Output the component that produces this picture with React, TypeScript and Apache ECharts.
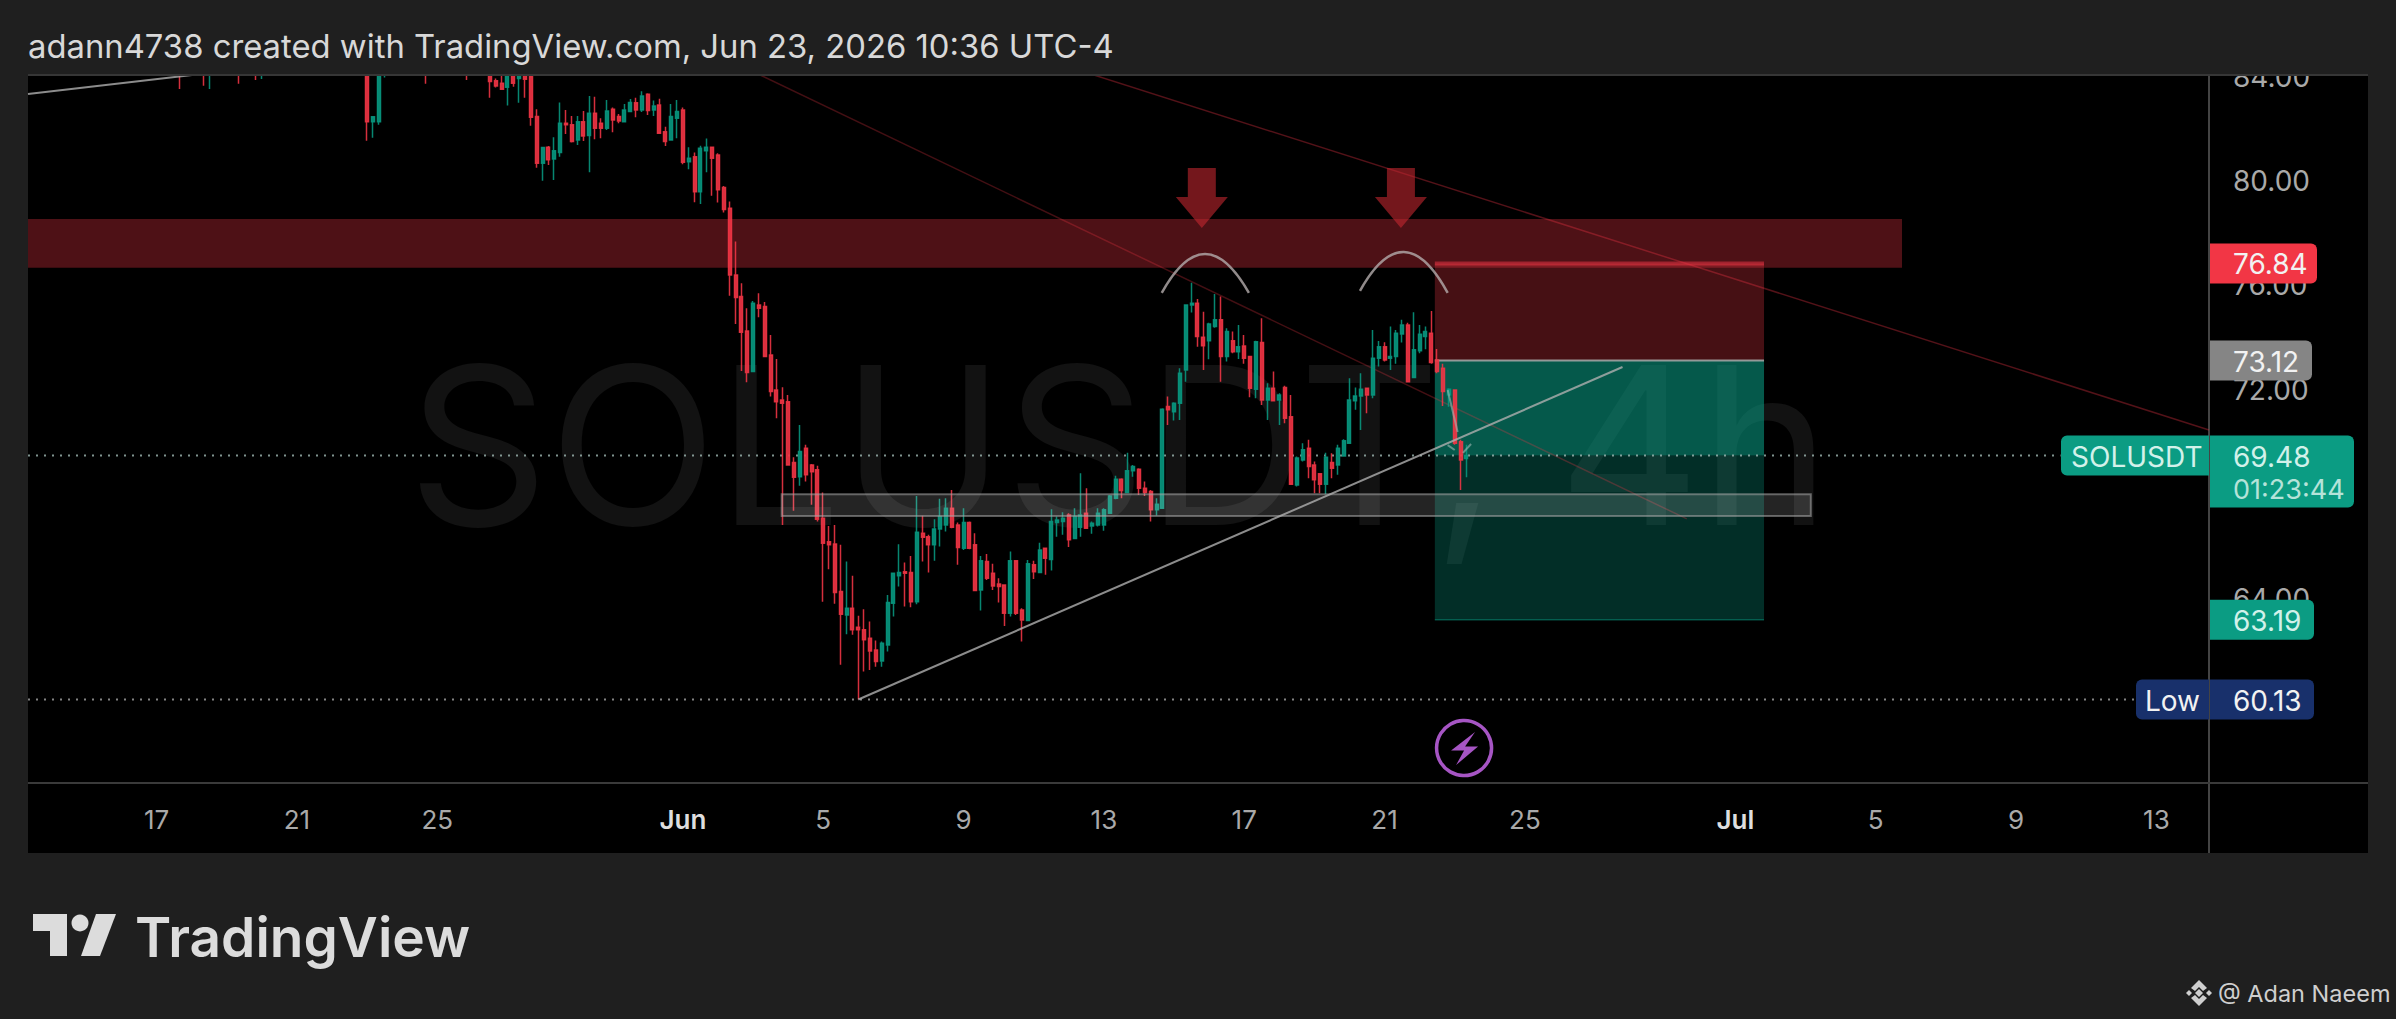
import React, { useEffect, useRef } from "react";
import * as echarts from "echarts";

const FONT = "Inter";
const BAR_SLOTS = 374;
const LAST_SLOT = BAR_SLOTS - 1;

// Slot 112 is Jun 1 00:00; one slot is four hours.
const categories = Array.from({ length: BAR_SLOTS }, (_, i) =>
  new Date(Date.UTC(2026, 5, 1) + (i - 112) * 4 * 3600 * 1000).toISOString().slice(0, 16)
);

const dateTicks: [number, string][] = [
  [22, "17"], [46, "21"], [70, "25"], [112, "Jun"], [136, "5"], [160, "9"], [184, "13"],
  [208, "17"], [232, "21"], [256, "25"], [292, "Jul"], [316, "5"], [340, "9"], [364, "13"],
];
const priceTicks = [60, 64, 68, 72, 76, 80, 84];

// [slot, open, high, low, close]: bars that only poke into the top of the pane
const earlyBars: number[][] = [
  [26, 85.2, 85.6, 83.52, 84.4], [30, 85, 85.4, 83.65, 84.2], [31, 84.3, 85.2, 83.52, 84.9],
  [36, 85, 85.3, 83.72, 84.3], [39, 85.1, 85.3, 83.87, 84.4], [40, 84.4, 85, 83.91, 84.8],
  [58, 85.4, 85.8, 81.54, 82.27], [59, 82.27, 82.49, 81.66, 82.46], [60, 82.27, 85.6, 82.15, 85.2],
  [61, 84.7, 85.7, 83.96, 85.3], [68, 85.1, 85.4, 83.72, 84.4], [75, 85, 85.2, 83.87, 84.3],
];

const FIRST_MAIN_SLOT = 79;
// [open, high, low, close] from slot 79 on
const mainBars: number[][] = [
  [84.2, 84.4, 83.19, 83.81], [83.84, 83.93, 83.58, 83.64], [83.74, 84.2, 83.49, 83.51], [83.59, 84.5, 82.89, 84.3],
  [84.3, 84.5, 83.61, 83.74], [83.93, 84.4, 83.0, 84.2], [84.3, 84.5, 83.19, 83.9], [84.0, 84.2, 82.12, 82.44],
  [82.47, 82.75, 80.51, 80.68], [80.68, 81.28, 80.01, 81.28], [81.29, 81.34, 80.61, 80.81], [80.84, 81.67, 80.04, 81.16],
  [81.09, 83.01, 80.93, 82.21], [82.21, 82.72, 81.8, 82.15], [82.15, 82.49, 81.47, 81.51], [81.57, 82.49, 81.38, 82.27],
  [82.27, 82.68, 81.53, 81.72], [81.74, 83.26, 80.33, 82.59], [82.59, 83.23, 81.6, 82.02], [82.21, 82.4, 81.64, 82.02],
  [82.02, 83.1, 81.95, 82.68], [82.75, 82.81, 81.87, 82.34], [82.47, 82.57, 82.21, 82.3], [82.27, 82.95, 82.25, 82.72],
  [82.66, 83.14, 82.63, 83.01], [83.0, 83.19, 82.44, 82.72], [82.72, 83.44, 82.64, 83.26], [83.32, 83.36, 82.53, 82.7],
  [82.72, 83.08, 82.49, 82.87], [82.91, 83.15, 81.8, 81.83], [81.89, 82.08, 81.34, 81.51], [81.57, 82.95, 81.55, 82.47],
  [82.4, 83.1, 81.64, 82.66], [82.72, 82.81, 80.64, 80.72], [80.74, 81.29, 80.45, 80.87], [80.93, 81.09, 79.18, 79.59],
  [79.59, 81.35, 79.12, 81.25], [81.16, 81.63, 80.33, 81.29], [81.29, 81.32, 79.43, 80.87], [80.99, 81.06, 79.17, 79.66],
  [79.75, 79.81, 78.79, 78.91], [78.95, 79.21, 75.6, 76.4], [76.4, 77.68, 74.52, 75.53], [75.57, 76.08, 72.72, 74.2],
  [74.25, 75.12, 72.29, 72.66], [72.7, 75.4, 72.67, 75.31], [75.25, 75.7, 74.78, 75.12], [75.19, 75.36, 73.25, 73.27],
  [73.33, 74.1, 71.74, 71.93], [71.99, 73.18, 70.91, 71.54], [71.61, 72.1, 66.82, 71.48], [71.54, 71.8, 69.09, 69.12],
  [69.21, 69.41, 67.36, 68.65], [68.67, 70.65, 68.32, 69.63], [69.76, 69.89, 68.48, 68.74], [69.12, 69.15, 67.59, 68.86],
  [68.93, 69.09, 66.95, 67.04], [67.08, 68.06, 63.88, 66.12], [66.18, 66.78, 65.12, 66.06], [66.09, 66.82, 63.8, 64.23],
  [64.27, 66.06, 61.46, 63.4], [63.37, 65.42, 62.63, 63.63], [63.63, 64.87, 62.61, 62.8], [62.9, 63.34, 60.13, 62.8],
  [62.8, 63.59, 61.2, 62.42], [62.48, 63.12, 61.26, 61.99], [62.03, 62.39, 61.39, 61.59], [61.61, 62.35, 61.39, 62.29],
  [62.22, 64.14, 61.97, 63.85], [63.82, 65.0, 63.31, 64.97], [64.87, 66.08, 64.46, 65.0], [65.03, 65.38, 63.69, 64.97],
  [65.0, 65.63, 63.67, 63.88], [63.88, 67.93, 63.78, 66.54], [66.5, 67.17, 65.42, 66.35], [66.37, 66.44, 65.0, 66.06],
  [66.06, 67.04, 65.45, 66.66], [66.66, 67.82, 65.99, 67.14], [66.82, 67.84, 66.57, 67.46], [67.46, 68.16, 66.69, 66.73],
  [66.82, 66.91, 65.29, 65.96], [65.93, 67.46, 65.86, 66.91], [66.91, 66.95, 65.89, 65.93], [66.06, 66.5, 64.29, 64.31],
  [64.33, 65.63, 63.54, 65.45], [65.42, 65.71, 64.71, 64.78], [64.97, 65.33, 64.33, 64.48], [64.56, 64.78, 63.85, 64.46],
  [64.52, 64.52, 62.95, 63.44], [63.44, 65.8, 63.31, 65.45], [65.45, 65.48, 63.37, 63.44], [63.56, 63.63, 62.35, 63.18],
  [63.16, 65.48, 63.14, 65.33], [65.29, 65.45, 64.75, 65.03], [65.0, 66.14, 64.98, 65.86], [65.93, 65.95, 64.91, 65.54],
  [65.5, 67.42, 65.07, 66.95], [66.91, 67.14, 66.37, 67.01], [66.95, 67.31, 66.44, 67.08], [67.2, 67.27, 65.97, 66.25],
  [66.3, 67.46, 66.27, 67.14], [66.73, 68.8, 66.37, 67.2], [67.27, 68.23, 66.66, 66.69], [66.78, 66.95, 66.48, 66.88],
  [66.82, 67.46, 66.76, 67.27], [66.82, 67.46, 66.6, 67.4], [67.27, 67.97, 67.24, 67.93], [67.84, 68.7, 67.8, 68.57],
  [68.57, 68.61, 67.84, 68.14], [68.06, 69.59, 68.03, 68.9], [68.9, 69.12, 68.67, 69.06], [68.95, 68.99, 67.97, 68.23],
  [68.23, 68.48, 67.93, 68.06], [68.1, 68.16, 66.95, 67.4], [67.4, 67.84, 67.18, 67.61], [67.46, 71.29, 67.43, 71.25],
  [71.36, 71.74, 70.65, 71.23], [71.16, 71.52, 70.82, 71.48], [71.48, 72.82, 70.84, 72.63], [72.76, 75.28, 72.31, 75.25],
  [75.25, 76.1, 74.96, 75.31], [75.31, 75.48, 73.65, 74.04], [74.01, 74.99, 72.76, 73.69], [73.88, 74.57, 73.17, 74.52],
  [74.42, 75.67, 74.38, 74.68], [74.68, 75.57, 72.31, 73.27], [73.27, 74.36, 73.08, 74.23], [73.88, 74.23, 73.4, 73.46],
  [73.46, 74.48, 73.18, 73.65], [73.68, 74.1, 73.0, 73.21], [73.27, 73.3, 71.71, 72.06], [72.02, 73.88, 71.67, 73.84],
  [73.81, 74.74, 71.42, 71.61], [71.61, 72.25, 70.84, 72.06], [72.06, 72.7, 71.55, 71.58], [71.61, 71.87, 70.65, 71.8],
  [72.09, 72.15, 70.72, 70.91], [70.97, 71.8, 68.35, 68.38], [68.35, 69.44, 68.29, 69.38], [69.31, 69.95, 69.25, 69.7],
  [69.76, 70.08, 68.61, 69.06], [69.12, 69.25, 68.03, 68.55], [68.78, 68.8, 68.03, 68.38], [68.38, 69.59, 68.0, 69.41],
  [69.21, 69.57, 68.61, 68.99], [69.12, 69.89, 68.74, 69.76], [69.46, 70.1, 69.44, 70.05], [69.95, 72.44, 69.92, 71.61],
  [71.58, 72.09, 71.23, 71.76], [71.76, 72.63, 70.46, 72.02], [72.06, 72.09, 71.1, 71.8], [71.8, 74.29, 71.67, 73.21],
  [73.21, 73.87, 72.89, 73.65], [73.65, 73.82, 73.08, 73.14], [73.21, 74.42, 72.76, 73.27], [73.27, 74.29, 73.0, 74.16],
  [74.14, 74.68, 73.81, 74.48], [74.48, 74.57, 72.29, 72.31], [72.47, 74.97, 72.44, 73.53], [73.49, 74.48, 73.4, 74.13],
  [74.04, 74.42, 73.55, 74.23], [74.16, 75.02, 73.0, 73.04], [73.14, 73.56, 72.63, 72.7], [72.82, 73.0, 71.38, 71.93],
  [71.8, 72.06, 71.35, 72.02], [71.99, 72.02, 69.89, 69.95], [70.01, 70.08, 68.16, 69.31], [69.37, 69.89, 68.65, 69.48],
];

// Drawings, in slot and price units
const supplyZone = [[0, 320.5, 78.54, 76.67]];
const stopBox = [[240.6, 296.9, 76.84, 73.12]];
const targetBoxUpper = [[240.6, 296.9, 73.12, 69.48]];
const targetBoxLower = [[240.6, 296.9, 69.48, 63.19]];
const demandBox = [[128.9, 304.9, 68.0, 67.16]];
const stopLine = [[240.6, 76.84], [296.9, 76.84]];
const entryLine = [[240.6, 73.12], [296.9, 73.12]];
const targetLine = [[240.6, 63.19], [296.9, 63.19]];
const risingTrend = [[142, 60.13], [272.7, 72.87]];
const olderTrend = [[0, 83.33], [40, 84.37]];
const fallingTrendNear = [[120, 84.62], [283.7, 67.05]];
const fallingTrendFar = [[175, 84.58], [373, 70.46]];
const lastPriceLine = [[0, 69.48], [347.6, 69.48]];
const lowPriceLine = [[0, 60.13], [360.5, 60.13]];
const pathShaft = [[242.8, 71.99], [244.5, 70.38]];
const pathHeadLeft = [[242.8, 69.88], [244, 69.69]];
const pathHeadRight = [[245.4, 69.58], [246.8, 69.92]];
// [start slot, start price, peak slot, peak price, end slot, end price]
const arcs = [
  [193.9, 75.71, 201.3, 77.2, 208.8, 75.71],
  [227.8, 75.79, 235.3, 77.28, 242.8, 75.71],
];
const arrowTips = [[200.75, 78.2], [234.8, 78.2]];
const eventMarker = [[245.6, 58.27]];

const priceTags = [76.84, 73.12, 69.48, 63.19, 60.13];
const tagTexts = ["76.84", "73.12", "69.48", "63.19", "60.13"];
const countdownText = "01:23:44";
const symbolText = "SOLUSDT";
const lowText = "Low";
const titleText = "adann4738 created with TradingView.com, Jun 23, 2026 10:36 UTC-4";
const watermarkText = "SOLUSDT, 4h";
const brandText = "TradingView";
const creditText = "@ Adan Naeem";

const GREEN = "#089981";
const RED = "#F23645";
const GRAY_LINE = "rgba(175,175,175,0.8)";

const tagFills = ["#F23645", "#858585", "#0b9c83", "#0b9c83", "#18306b"];
const tagWidths = [107, 102, 144, 104, 104];

function boxSeries(name: string, rows: number[][], style: any, z: number) {
  return {
    type: "custom", name, xAxisIndex: 1, yAxisIndex: 0, silent: true, z, clip: true,
    encode: { x: [0, 1], y: [2, 3] },
    data: rows,
    renderItem: (_: any, api: any) => {
      const a = api.coord([api.value(0), api.value(2)]);
      const b = api.coord([api.value(1), api.value(3)]);
      return { type: "rect", shape: { x: a[0], y: a[1], width: b[0] - a[0], height: b[1] - a[1] }, style };
    },
  };
}

function lineSeries(name: string, data: number[][], color: string, width: number, z: number, dash?: number[]) {
  return {
    type: "line", name, xAxisIndex: 1, yAxisIndex: 0, data, z, silent: true, showSymbol: false,
    symbol: "none", lineStyle: { color, width, type: dash || "solid" },
  };
}

function tagText(text: string, x: number, y: number, fill: string, size = 28) {
  return {
    type: "text",
    style: { text, x, y, fill, font: `${size}px ${FONT}`, align: "left", verticalAlign: "middle", textAlign: "left", textVerticalAlign: "middle" },
  };
}

function buildOption(): any {
  const tickMap = new Map(dateTicks);
  const candles: any[] = categories.map(() => ["-", "-", "-", "-"]);
  earlyBars.forEach(([i, o, h, l, c]) => { candles[i] = [o, c, l, h]; });
  mainBars.forEach(([o, h, l, c], k) => { candles[FIRST_MAIN_SLOT + k] = [o, c, l, h]; });

  const frameColor = "#363636";
  const graphicEls: any[] = [
    { type: "rect", z: -3, shape: { x: 28, y: 75, width: 2340, height: 778 }, style: { fill: "#000" } },
    { type: "text", z: -2, style: { text: watermarkText, x: 1119, y: 445, fill: "#121212", font: `220px ${FONT}`, textAlign: "center", textVerticalAlign: "middle" } },
    { type: "rect", z: 5, shape: { x: 0, y: 0, width: 2396, height: 74 }, style: { fill: "#1f1f1f" } },
    { type: "line", z: 5, shape: { x1: 28, y1: 75, x2: 2368, y2: 75 }, style: { stroke: frameColor, lineWidth: 2 } },
    { type: "line", z: 1, shape: { x1: 2209, y1: 75, x2: 2209, y2: 853 }, style: { stroke: "#444", lineWidth: 2 } },
    { type: "line", z: 1, shape: { x1: 28, y1: 783, x2: 2368, y2: 783 }, style: { stroke: "#3a3a3a", lineWidth: 2 } },
    { type: "text", z: 6, style: { text: titleText, x: 28, y: 46, fill: "#d8d8d8", font: `32.8px ${FONT}`, textAlign: "left", textVerticalAlign: "middle" } },
    { type: "rect", z: 6, shape: { x: 33, y: 914, width: 34, height: 17 }, style: { fill: "#dcdcdc" } },
    { type: "rect", z: 6, shape: { x: 50, y: 914, width: 17, height: 42 }, style: { fill: "#dcdcdc" } },
    { type: "circle", z: 6, shape: { cx: 80, cy: 923, r: 8.5 }, style: { fill: "#dcdcdc" } },
    { type: "polygon", z: 6, shape: { points: [[96, 914], [116, 914], [100, 956], [81, 956]] }, style: { fill: "#dcdcdc" } },
    { type: "text", z: 6, style: { text: brandText, x: 135, y: 937, fill: "#dcdcdc", font: `600 55px Inter`, textAlign: "left", textVerticalAlign: "middle" } },
    { type: "polygon", z: 6, shape: { points: [[2199, 980], [2207, 988], [2203, 991], [2199, 987], [2195, 991], [2191, 988]] }, style: { fill: "#cfcfcf" } },
    { type: "polygon", z: 6, shape: { points: [[2199, 1006], [2207, 998], [2203, 995], [2199, 999], [2195, 995], [2191, 998]] }, style: { fill: "#cfcfcf" } },
    { type: "polygon", z: 6, shape: { points: [[2199, 989], [2203, 993], [2199, 997], [2195, 993]] }, style: { fill: "#cfcfcf" } },
    { type: "polygon", z: 6, shape: { points: [[2189, 990], [2192, 993], [2189, 996], [2186, 993]] }, style: { fill: "#cfcfcf" } },
    { type: "polygon", z: 6, shape: { points: [[2209, 990], [2212, 993], [2209, 996], [2206, 993]] }, style: { fill: "#cfcfcf" } },
    { type: "text", z: 6, style: { text: creditText, x: 2218, y: 993, fill: "#cfcfcf", font: `23.5px ${FONT}`, textAlign: "left", textVerticalAlign: "middle" } },
  ];

  return {
    animation: false,
    backgroundColor: "#1f1f1f",
    graphic: { elements: graphicEls },
    grid: { left: 28, top: 75, width: 2181, height: 707, containLabel: false },
    xAxis: [
      {
        type: "category", data: categories, boundaryGap: false, position: "bottom",
        axisLine: { show: false }, axisTick: { show: false }, splitLine: { show: false },
        axisLabel: {
          interval: (i: number) => tickMap.has(i),
          formatter: (_: string, i: number) => {
            const t = tickMap.get(i) as string;
            return /[A-Z]/.test(t) ? `{b|${t}}` : t;
          },
          margin: 24, color: "#a9a9a9", fontSize: 26, fontFamily: FONT, hideOverlap: false,
          rich: { b: { color: "#dedede", fontSize: 26, fontWeight: 600, fontFamily: FONT } },
        },
      },
      { type: "value", min: 0, max: LAST_SLOT, show: false, splitLine: { show: false } },
    ],
    yAxis: {
      type: "value", min: 56.97, max: 84.06, position: "right", scale: true,
      splitLine: { show: false }, axisLine: { show: false }, axisTick: { show: false },
      axisLabel: {
        customValues: priceTicks, margin: 24, color: "#a9a9a9", fontSize: 28, fontFamily: FONT,
        formatter: (v: number) => v.toFixed(2), showMinLabel: true, showMaxLabel: true,
      },
    },
    series: [
      boxSeries("Supply zone", supplyZone, { fill: "rgba(242,54,69,0.32)" }, 1),
      boxSeries("Stop box", stopBox, { fill: "rgba(242,54,69,0.29)" }, 1),
      boxSeries("Target upper", targetBoxUpper, { fill: "rgba(8,153,129,0.58)" }, 1),
      boxSeries("Target lower", targetBoxLower, { fill: "rgba(8,153,129,0.3)" }, 1),
      lineSeries("Stop line", stopLine, "rgba(242,54,69,0.5)", 4, 1),
      lineSeries("Entry line", entryLine, "rgba(170,170,170,0.85)", 2, 1),
      lineSeries("Target line", targetLine, "rgba(8,153,129,0.5)", 1.5, 1),
      lineSeries("Falling trend near", fallingTrendNear, "rgba(242,54,69,0.28)", 1.5, 1),
      lineSeries("Falling trend far", fallingTrendFar, "rgba(242,54,69,0.34)", 1.5, 1),
      lineSeries("Last price", lastPriceLine, "rgba(160,185,180,0.8)", 2, 1, [2, 6]),
      lineSeries("Low price", lowPriceLine, "rgba(165,165,165,0.8)", 2, 1, [2, 6]),
      {
        type: "candlestick", name: "SOLUSDT", xAxisIndex: 0, yAxisIndex: 0, barWidth: 3.5, z: 2, silent: true,
        data: candles,
        itemStyle: { color: GREEN, color0: RED, borderColor: GREEN, borderColor0: RED, borderWidth: 1.5, opacity: 0.88 },
      },
      lineSeries("Rising trend", risingTrend, GRAY_LINE, 2, 3),
      lineSeries("Older trend", olderTrend, GRAY_LINE, 2, 3),
      lineSeries("Path shaft", pathShaft, "rgba(160,185,180,0.6)", 2, 3),
      lineSeries("Path head left", pathHeadLeft, "rgba(160,185,180,0.6)", 2, 3),
      lineSeries("Path head right", pathHeadRight, "rgba(160,185,180,0.6)", 2, 3),
      boxSeries("Demand box", demandBox, { fill: "rgba(255,255,255,0.14)", stroke: "rgba(165,165,165,0.55)", lineWidth: 2 }, 3),
      {
        type: "custom", name: "Arcs", xAxisIndex: 1, yAxisIndex: 0, z: 4, silent: true,
        encode: { x: [0, 2, 4], y: [1, 3, 5] }, data: arcs,
        renderItem: (_: any, api: any) => {
          const s = api.coord([api.value(0), api.value(1)]);
          const p = api.coord([api.value(2), api.value(3)]);
          const e = api.coord([api.value(4), api.value(5)]);
          return {
            type: "bezierCurve",
            shape: { x1: s[0], y1: s[1], x2: e[0], y2: e[1], cpx1: 2 * p[0] - (s[0] + e[0]) / 2, cpy1: 2 * p[1] - (s[1] + e[1]) / 2 },
            style: { stroke: "rgba(180,172,172,0.8)", lineWidth: 2.5, fill: "none" },
          };
        },
      },
      {
        type: "custom", name: "Arrows", xAxisIndex: 1, yAxisIndex: 0, z: 4, silent: true,
        encode: { x: 0, y: 1 }, data: arrowTips,
        renderItem: (_: any, api: any) => {
          const [x, y] = api.coord([api.value(0), api.value(1)]);
          return {
            type: "polygon",
            shape: { points: [[x, y], [x + 26, y - 31], [x + 14, y - 31], [x + 14, y - 60], [x - 14, y - 60], [x - 14, y - 31], [x - 26, y - 31]] },
            style: { fill: "rgba(200,40,48,0.58)" },
          };
        },
      },
      {
        type: "custom", name: "Event", xAxisIndex: 1, yAxisIndex: 0, z: 4, silent: true,
        encode: { x: 0, y: 1 }, data: eventMarker,
        renderItem: (_: any, api: any) => {
          const [x, y] = api.coord([api.value(0), api.value(1)]);
          const pts = [[11, -16], [-13, 2.5], [0, 2.5], [-8, 17], [14, -1.5], [1, -1.5]].map(([a, b]) => [x + a, y + b]);
          return {
            type: "group",
            children: [
              { type: "circle", shape: { cx: x, cy: y, r: 27.5 }, style: { fill: "none", stroke: "#a655c4", lineWidth: 3.5 } },
              { type: "polygon", shape: { points: pts }, style: { fill: "#a655c4" } },
            ],
          };
        },
      },
      {
        type: "custom", name: "Price tags", xAxisIndex: 1, yAxisIndex: 0, z: 8, silent: true, clip: false,
        encode: { y: 0 }, data: priceTags.map((p) => [p]),
        renderItem: (params: any, api: any) => {
          const i = params.dataIndex;
          const y = api.coord([LAST_SLOT, api.value(0)])[1];
          const left = 2210;
          const fill = tagFills[i];
          const isLast = i === 2;
          const children: any[] = [
            { type: "rect", shape: { x: left, y: y - 20, width: tagWidths[i], height: isLast ? 72 : 40, r: [0, 6, 6, 0] }, style: { fill } },
            tagText(tagTexts[i], 2233, y + 1, i === 2 || i === 3 ? "#d2f1ea" : "#f2f2f2"),
          ];
          if (isLast) {
            children.push({ type: "rect", shape: { x: 2061, y: y - 20, width: 148, height: 40, r: [6, 0, 0, 6] }, style: { fill } });
            children.push(tagText(symbolText, 2071, y + 1, "#d2f1ea"));
            children.push(tagText(countdownText, 2233, y + 34, "#b5e3d9", 27));
          }
          if (i === 4) {
            children.push({ type: "rect", shape: { x: 2136, y: y - 20, width: 73, height: 40, r: [6, 0, 0, 6] }, style: { fill } });
            children.push(tagText(lowText, 2145, y + 1, "#f2f2f2"));
          }
          return { type: "group", children };
        },
      },
    ],
  };
}

export default function App() {
  const ref = useRef<HTMLDivElement>(null);
  useEffect(() => {
    document.body.style.margin = "0";
    document.body.style.background = "#1f1f1f";
    const chart = echarts.init(ref.current as HTMLDivElement, undefined, { renderer: "svg" });
    chart.setOption(buildOption());
    return () => chart.dispose();
  }, []);
  return <div ref={ref} style={{ width: 2396, height: 1019 }} />;
}
